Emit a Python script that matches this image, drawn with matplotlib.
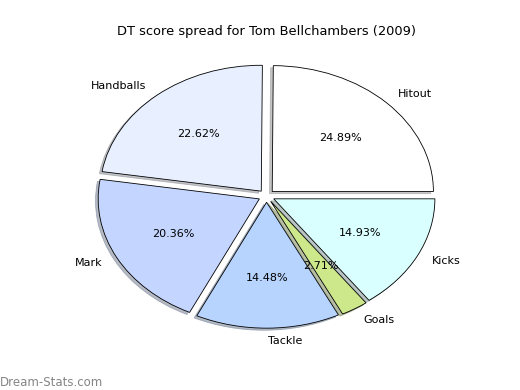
import matplotlib
matplotlib.use("Agg")
import matplotlib.pyplot as plt

# DT score breakdown
labels = ["Hitout", "Handballs", "Mark", "Tackle", "Goals", "Kicks"]
values = [24.89, 22.62, 20.36, 14.48, 2.71, 14.93]
colors = ["#ffffff", "#e8f0ff", "#c4d6ff", "#b7d4ff", "#cce88a", "#d9ffff"]
explode = [0.05] * len(values)

fig = plt.figure(figsize=(5.2, 3.9), dpi=100)
ax = fig.add_axes([0.125, 0.094, 0.775, 0.807])

wedges, texts, autotexts = ax.pie(values, labels=labels, colors=colors, explode=explode,
                                  autopct="%1.2f%%", startangle=0,
                                  shadow={"ox": -0.012, "oy": -0.012, "shade": 0.45},
                                  wedgeprops={"edgecolor": "black", "linewidth": 0.6})
ax.set_aspect("auto")
for t in texts + autotexts:
    t.set_fontsize(8)

ax.set_title("DT score spread for Tom Bellchambers (2009)", fontsize=9.4, pad=2.5)
fig.text(0.0, 0.01, "Dream-Stats.com", color="#858585", fontsize=8.5)

fig.savefig("out.png", dpi=100)
